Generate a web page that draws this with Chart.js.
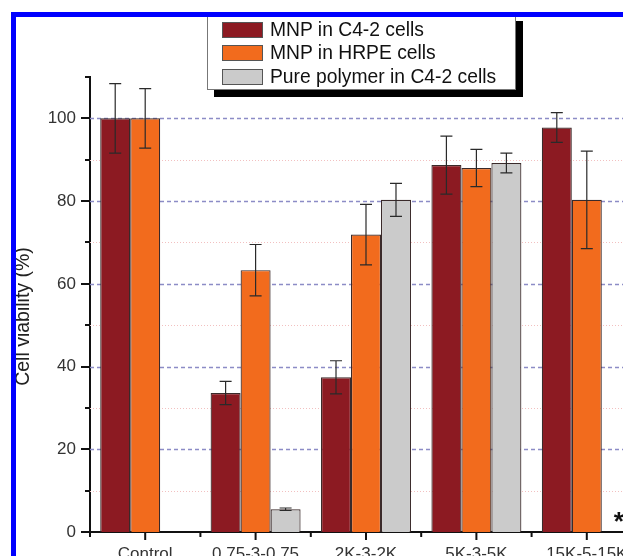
<!DOCTYPE html>
<html>
<head>
<meta charset="utf-8">
<script src="https://cdn.jsdelivr.net/npm/chart.js@4.4.1/dist/chart.umd.min.js"></script>
<style>
  body { margin: 0; width: 623px; height: 556px; overflow: hidden; background: #fff; position: relative;
         font-family: "Liberation Sans", Arial, sans-serif; }
  #wrap { position: absolute; left: 0; top: 0; }
  #frame { position: absolute; left: 11px; top: 12px; width: 700px; height: 700px;
           border-left: 5px solid #0000ff; border-top: 5px solid #0000ff; z-index: 3; }
  #legend { position: absolute; left: 207px; top: 14px; width: 309px; height: 76px; box-sizing: border-box;
            background: #fff; border: 1px solid #777; box-shadow: 7px 7px 0 #000; z-index: 2;
            padding: 3px 0 0 14px; }
  .item { display: flex; align-items: center; height: 23.5px; font-size: 19.3px; color: #111; white-space: nowrap; }
  .sw { width: 41px; height: 16px; box-sizing: border-box; border: 1.5px solid #555; margin-right: 7px; }
</style>
</head>
<body>
<div id="wrap"><canvas id="chart" width="680" height="600"></canvas></div>
<div id="legend"></div>
<div id="frame"></div>
<script>
const categories = ["Control", "0.75-3-0.75", "2K-3-2K", "5K-3-5K", "15K-5-15K"];
const seriesNames = ["MNP in C4-2 cells", "MNP in HRPE cells", "Pure polymer in C4-2 cells"];
const c42Values = [100, 33.6, 37.4, 88.7, 97.8];
const c42Errors = [8.4, 2.8, 4.0, 7.0, 3.6];
const hrpeValues = [100, 63.3, 71.9, 88.0, 80.3];
const hrpeErrors = [7.2, 6.2, 7.3, 4.5, 11.8];
const polymerValues = [null, 5.5, 80.3, 89.2, null];
const polymerErrors = [0, 0.3, 4.0, 2.4, 0];
const yTickLabels = [0, 20, 40, 60, 80, 100];

const colors = ["#8c1a22", "#f26b1d", "#cbcbcb"];
const allErrors = [c42Errors, hrpeErrors, polymerErrors];

// grid lines, short ticks, error bars, axis title and the asterisk
const decor = {
  id: "decor",
  beforeDatasetsDraw(chart) {
    const { ctx, chartArea: a, scales: { y } } = chart;
    ctx.save();
    y.ticks.forEach(t => {
      const v = t.value;
      if (v <= 0 || v > 100) return;
      const py = Math.round(y.getPixelForValue(v)) + 0.5;
      ctx.beginPath();
      if (v % 20 === 0) {
        ctx.strokeStyle = "#8c8cc6"; ctx.lineWidth = 1.5; ctx.setLineDash([4, 3]);
      } else {
        ctx.strokeStyle = "#f2c0c0"; ctx.lineWidth = 1; ctx.setLineDash([1, 2]);
      }
      ctx.moveTo(a.left, py);
      ctx.lineTo(a.right, py);
      ctx.stroke();
    });
    ctx.restore();
  },
  afterDatasetsDraw(chart) {
    const { ctx, scales: { y } } = chart;
    ctx.save();
    ctx.strokeStyle = "#2a2a2a";
    ctx.lineWidth = 1.2;
    chart.data.datasets.forEach((ds, i) => {
      const meta = chart.getDatasetMeta(i);
      meta.data.forEach((bar, j) => {
        const v = ds.data[j];
        if (v == null) return;
        const e = allErrors[i][j];
        const top = y.getPixelForValue(v + e);
        const bot = y.getPixelForValue(v - e);
        ctx.beginPath();
        ctx.moveTo(bar.x, top); ctx.lineTo(bar.x, bot);
        ctx.moveTo(bar.x - 6, top); ctx.lineTo(bar.x + 6, top);
        ctx.moveTo(bar.x - 6, bot); ctx.lineTo(bar.x + 6, bot);
        ctx.stroke();
      });
    });
    // significance mark over the missing polymer bar
    const star = chart.getDatasetMeta(2).data[4];
    ctx.fillStyle = "#111";
    ctx.font = "bold 26px 'Liberation Sans', Arial, sans-serif";
    ctx.textAlign = "center";
    ctx.textBaseline = "alphabetic";
    ctx.fillText("*", star.x + 2, y.getPixelForValue(0) - 2);
    ctx.restore();
  },
  afterDraw(chart) {
    const { ctx, chartArea: a, scales: { x, y } } = chart;
    ctx.save();
    ctx.strokeStyle = "#111";
    ctx.lineWidth = 2;
    y.ticks.forEach(t => {
      const py = Math.round(y.getPixelForValue(t.value));
      const len = t.value % 20 === 0 ? 9 : 5;
      ctx.beginPath();
      ctx.moveTo(a.left - len, py); ctx.lineTo(a.left, py);
      ctx.stroke();
    });
    const step = (a.right - a.left) / categories.length;
    categories.forEach((c, i) => {
      const px = x.getPixelForValue(i);
      ctx.beginPath();
      ctx.moveTo(px, a.bottom); ctx.lineTo(px, a.bottom + 8);
      ctx.moveTo(px - step / 2, a.bottom); ctx.lineTo(px - step / 2, a.bottom + 5);
      ctx.stroke();
    });
    ctx.translate(24, (a.top + a.bottom) / 2 + 12);
    ctx.rotate(-Math.PI / 2);
    ctx.fillStyle = "#222";
    ctx.font = "19.5px 'Liberation Sans', Arial, sans-serif";
    ctx.textAlign = "center";
    ctx.textBaseline = "middle";
    ctx.fillText("Cell viability (%)", 0, 0);
    ctx.restore();
  }
};

const values = [c42Values, hrpeValues, polymerValues];
const chart = new Chart(document.getElementById("chart"), {
  type: "bar",
  data: {
    labels: categories,
    datasets: seriesNames.map((name, i) => ({
      label: name,
      data: values[i],
      backgroundColor: colors[i],
      borderColor: "#3a2a2a",
      borderWidth: 1.2,
      categoryPercentage: 0.815,
      barPercentage: 1.0
    }))
  },
  options: {
    responsive: false,
    animation: false,
    layout: { padding: { left: 10, top: 77, right: 38, bottom: 28 } },
    plugins: { legend: { display: false }, tooltip: { enabled: false } },
    scales: {
      x: {
        grid: { display: false, drawTicks: true, tickLength: 9 },
        border: { display: true, color: "#111", width: 2 },
        ticks: { color: "#333", padding: 3, font: { size: 17, family: "'Liberation Sans', Arial, sans-serif" }, maxRotation: 0 },
        afterFit(s) { s.height = 40; }
      },
      y: {
        min: 0,
        max: 110,
        grid: { display: false, drawTicks: true, tickLength: 9 },
        border: { display: true, color: "#111", width: 2 },
        ticks: {
          stepSize: 10,
          padding: 5,
          color: "#333",
          font: { size: 17, family: "'Liberation Sans', Arial, sans-serif" },
          callback: v => (yTickLabels.includes(v) ? String(v) : "")
        },
        afterFit(s) { s.width = 80; }
      }
    }
  },
  plugins: [decor]
});

// legend built from the datasets
const legend = document.getElementById("legend");
chart.data.datasets.forEach(ds => {
  const row = document.createElement("div");
  row.className = "item";
  const sw = document.createElement("span");
  sw.className = "sw";
  sw.style.background = ds.backgroundColor;
  row.appendChild(sw);
  row.appendChild(document.createTextNode(ds.label));
  legend.appendChild(row);
});
</script>
</body>
</html>
